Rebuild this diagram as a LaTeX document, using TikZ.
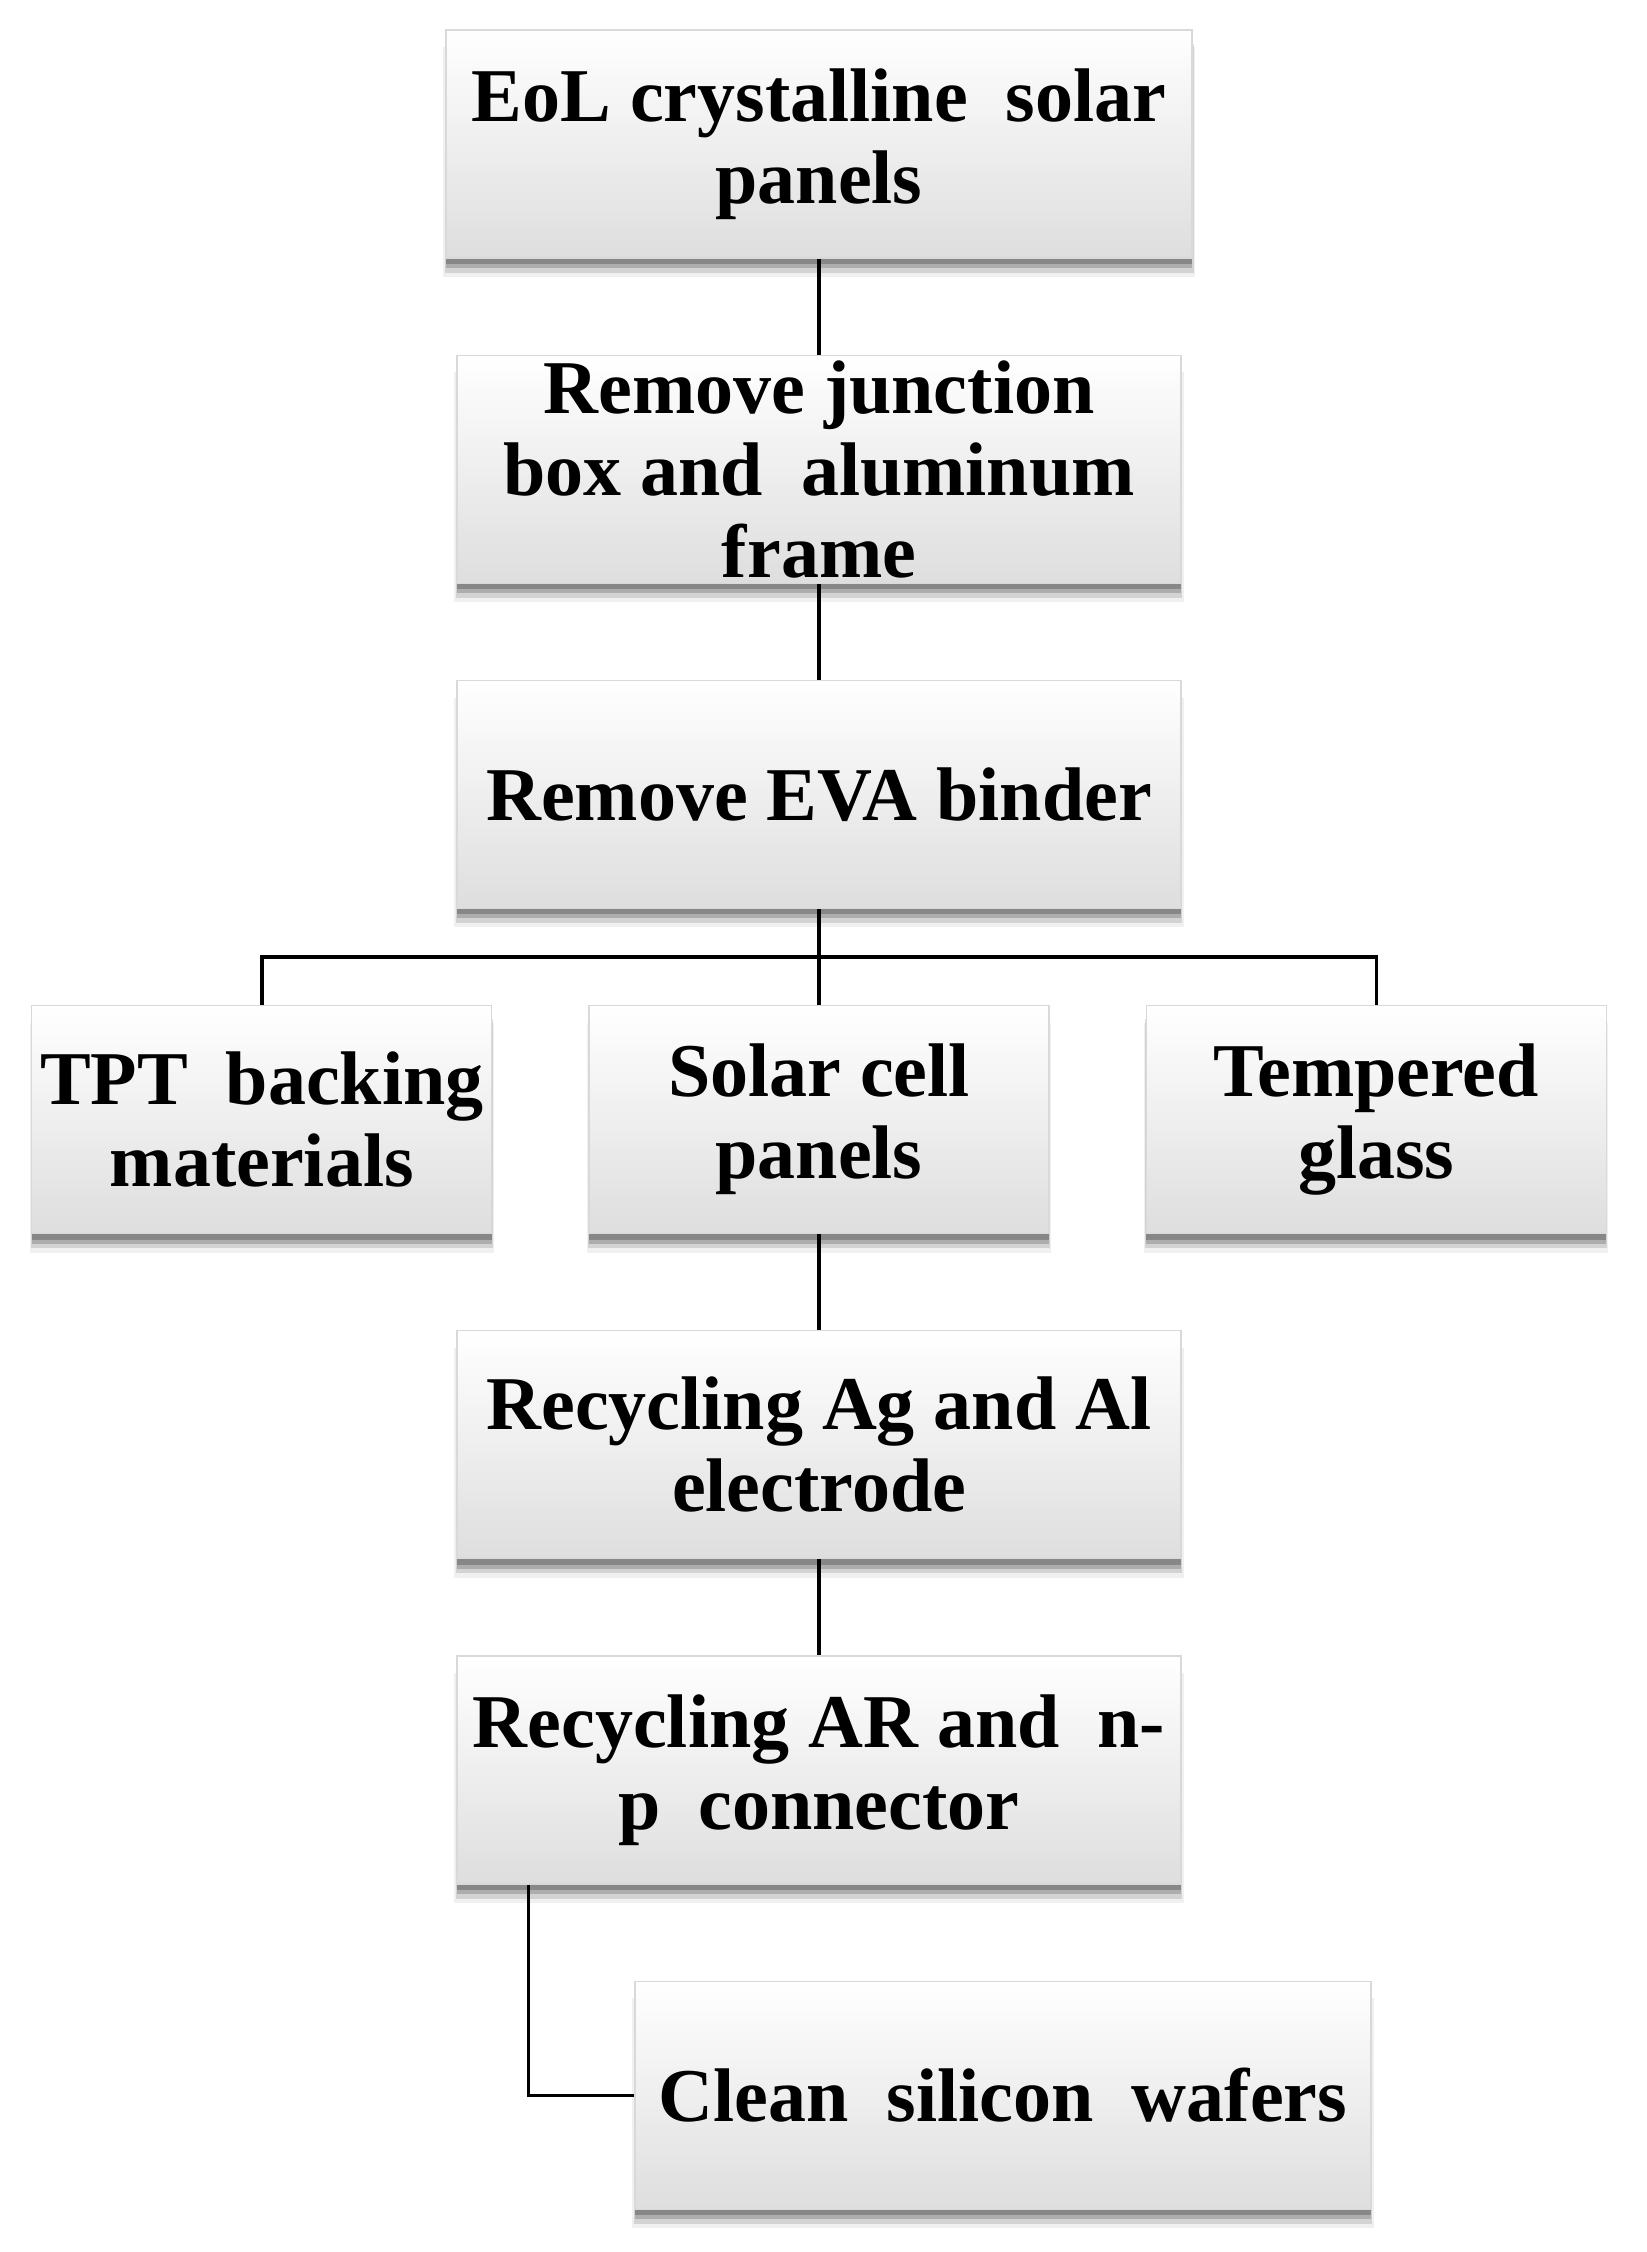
\documentclass[tikz,border=0pt]{standalone}
\usepackage{fontspec}
\setmainfont{Liberation Serif}
\usetikzlibrary{positioning, shadows}

\begin{document}
\begin{tikzpicture}[
  node distance=48pt,
  stagebox/.style={draw=black!15, line width=0.6pt, top color=white, middle color=black!2, bottom color=black!13,
    general shadow={shadow yshift=-9pt, shadow scale=1.008, fill=black, opacity=0.06},
    general shadow={shadow yshift=-7pt, shadow scale=1.004, fill=black, opacity=0.12},
    general shadow={shadow yshift=-5pt, fill=black, opacity=0.18},
    general shadow={shadow yshift=-3pt, fill=black, opacity=0.22},
    minimum width=362pt, minimum height=114pt, inner sep=2pt, align=center,
    font=\fontsize{38}{41}\selectfont\bfseries},
  sidebox/.style={stagebox, minimum width=230pt},
  link/.style={draw=black, line width=1.7pt}
]
  \useasboundingbox (0,0) rectangle (823pt,-1126pt);

  \node[stagebox, minimum width=373pt] (eol) at (409.5pt,-72pt) {EoL crystalline\ \ solar\\panels};
  \node[stagebox, below=of eol] (junction) {Remove junction\\box and\ \ aluminum\\frame};
  \node[stagebox, below=of junction] (eva) {Remove EVA binder};
  \node[sidebox, below=of eva] (solar) {Solar cell\\panels};
  \node[sidebox, left=of solar] (tpt) {TPT\ \ backing\\materials};
  \node[sidebox, right=of solar] (glass) {Tempered\\glass};
  \node[stagebox, below=of solar] (agal) {Recycling Ag and Al\\electrode};
  \node[stagebox, below=of agal] (arnp) {Recycling AR and\ \ n-\\p\ \ connector};
  \node[stagebox, minimum width=368pt, below=of arnp, xshift=92pt] (wafer) {Clean\ \ silicon\ \ wafers};

  \draw[link] (eol) -- (junction);
  \draw[link] (junction) -- (eva);
  \draw[link] (eva) -- (solar);
  \path (eva.south) ++(0,-24pt) coordinate (bus);
  \draw[link] (tpt.north) |- (bus) -| (glass.north);
  \draw[link] (solar) -- (agal);
  \draw[link] (agal) -- (arnp);
  \path (arnp.south west) ++(36pt,0) coordinate (tap);
  \draw[link] (tap) |- (wafer.west);
\end{tikzpicture}
\end{document}
